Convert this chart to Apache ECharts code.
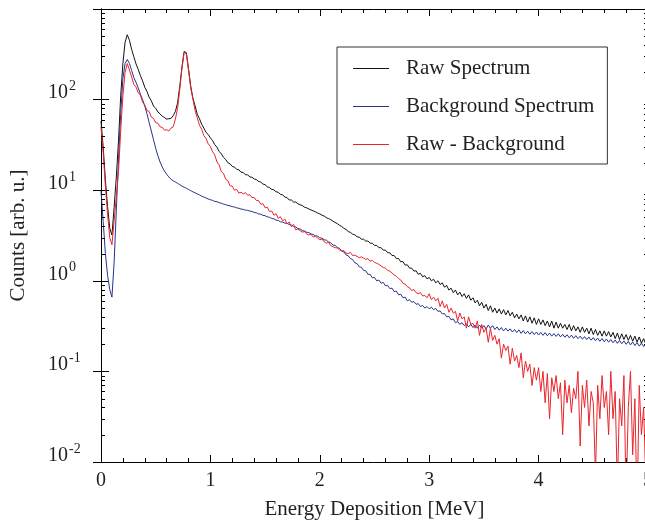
<!DOCTYPE html>
<html>
<head>
<meta charset="utf-8">
<script src="https://cdn.jsdelivr.net/npm/echarts@6/dist/echarts.min.js"></script>
<style>
html,body{margin:0;padding:0;background:#fff;}
#chart{width:645px;height:520px;}
</style>
</head>
<body>
<div id="chart"></div>
<script>
// Energy bins: 0.00 .. 5.00 MeV in 0.02 MeV steps (251 channels)
const ENERGY_STEP = 0.02;

const rawSpectrum = [
  58, 30, 13, 6.6, 3.8, 3.2, 6.5, 14, 35, 110,
  250, 430, 520, 452, 358, 297, 248, 216, 184, 161,
  137, 123, 106, 97, 85, 80, 73, 69.5, 65.5, 63.5,
  61, 61.5, 62, 66.5, 74, 92, 140, 230, 340, 330,
  220, 141, 104, 85, 69, 61.5, 53.5, 48.5, 43.5, 41.2,
  37.8, 35.3, 31.8, 29.8, 26.8, 25.2, 23.0, 21.8, 20.1, 19.5,
  18.3, 18.0, 17.0, 16.8, 15.8, 15.7, 14.8, 14.8, 14.0, 13.9,
  13.3, 13.1, 12.5, 12.3, 11.7, 11.5, 10.9, 10.7, 10.2, 10.1,
  9.6, 9.5, 9.0, 8.9, 8.4, 8.3, 7.8, 7.8, 7.4, 7.4,
  7.1, 6.9, 6.78, 6.5, 6.38, 6.2, 6.05, 5.9, 5.78, 5.6,
  5.48, 5.3, 5.18, 4.98, 4.86, 4.72, 4.56, 4.4, 4.28, 4.1,
  3.98, 3.8, 3.68, 3.5, 3.42, 3.27, 3.22, 3.06, 3.03, 2.88,
  2.88, 2.74, 2.75, 2.6, 2.6, 2.46, 2.46, 2.32, 2.32, 2.18,
  2.18, 2.04, 2.04, 1.9, 1.9, 1.76, 1.76, 1.62, 1.63, 1.49,
  1.5, 1.38, 1.38, 1.28, 1.29, 1.18, 1.21, 1.11, 1.14, 1.05,
  1.09, 1.0, 1.04, 0.95, 1.0, 0.91, 0.95, 0.85, 0.89, 0.79,
  0.83, 0.74, 0.79, 0.7, 0.75, 0.67, 0.72, 0.64, 0.7, 0.61,
  0.65, 0.57, 0.61, 0.53, 0.58, 0.5, 0.55, 0.47, 0.53, 0.45,
  0.5, 0.44, 0.49, 0.43, 0.48, 0.42, 0.47, 0.41, 0.45, 0.39,
  0.43, 0.38, 0.42, 0.36, 0.41, 0.35, 0.4, 0.34, 0.39, 0.33,
  0.38, 0.33, 0.37, 0.32, 0.36, 0.31, 0.36, 0.3, 0.35, 0.3,
  0.34, 0.3, 0.33, 0.29, 0.33, 0.28, 0.32, 0.28, 0.31, 0.27,
  0.31, 0.27, 0.3, 0.26, 0.3, 0.255, 0.29, 0.25, 0.28, 0.245,
  0.28, 0.245, 0.275, 0.24, 0.27, 0.23, 0.265, 0.225, 0.26, 0.225,
  0.255, 0.22, 0.25, 0.215, 0.245, 0.21, 0.24, 0.205, 0.23, 0.2,
  0.21
];

const backgroundSpectrum = [
  9.8, 4.5, 2.0, 1.15, 0.8, 0.66, 1.6, 6, 22, 70,
  170, 250, 277, 250, 210, 175, 155, 135, 115, 100,
  85, 70, 56, 45, 36, 29, 24, 20.5, 18, 16.3,
  15, 14, 13.2, 12.7, 12.3, 11.9, 11.5, 11.1, 10.8, 10.5,
  10.2, 9.9, 9.6, 9.35, 9.1, 8.85, 8.6, 8.4, 8.2, 8.0,
  7.85, 7.72, 7.52, 7.47, 7.28, 7.18, 7.02, 6.93, 6.78, 6.72,
  6.58, 6.53, 6.38, 6.33, 6.18, 6.15, 6.02, 6.0, 5.88, 5.83,
  5.68, 5.63, 5.48, 5.43, 5.28, 5.23, 5.08, 5.03, 4.88, 4.83,
  4.68, 4.63, 4.48, 4.45, 4.33, 4.31, 4.18, 4.13, 3.98, 3.93,
  3.78, 3.73, 3.58, 3.55, 3.43, 3.41, 3.28, 3.25, 3.13, 3.11,
  2.98, 2.96, 2.83, 2.81, 2.68, 2.63, 2.48, 2.46, 2.33, 2.28,
  2.13, 2.08, 1.93, 1.89, 1.76, 1.72, 1.58, 1.55, 1.43, 1.41,
  1.3, 1.29, 1.18, 1.18, 1.08, 1.09, 1.0, 1.02, 0.94, 0.96,
  0.88, 0.89, 0.82, 0.83, 0.76, 0.77, 0.7, 0.71, 0.65, 0.66,
  0.6, 0.62, 0.58, 0.59, 0.55, 0.56, 0.52, 0.535, 0.5, 0.52,
  0.49, 0.51, 0.48, 0.495, 0.46, 0.465, 0.43, 0.435, 0.4, 0.405,
  0.37, 0.38, 0.345, 0.355, 0.33, 0.345, 0.32, 0.335, 0.31, 0.33,
  0.305, 0.325, 0.3, 0.325, 0.3, 0.32, 0.295, 0.325, 0.3, 0.32,
  0.29, 0.31, 0.285, 0.305, 0.28, 0.3, 0.278, 0.295, 0.272, 0.29,
  0.268, 0.287, 0.263, 0.282, 0.26, 0.278, 0.257, 0.275, 0.255, 0.272,
  0.252, 0.27, 0.25, 0.268, 0.247, 0.265, 0.245, 0.262, 0.243, 0.26,
  0.24, 0.257, 0.238, 0.254, 0.235, 0.251, 0.232, 0.248, 0.23, 0.245,
  0.227, 0.242, 0.224, 0.239, 0.221, 0.236, 0.218, 0.233, 0.215, 0.23,
  0.212, 0.228, 0.21, 0.225, 0.207, 0.222, 0.204, 0.22, 0.202, 0.217,
  0.199, 0.214, 0.196, 0.211, 0.193, 0.208, 0.19, 0.205, 0.188, 0.202,
  0.19
];

const rawMinusBackground = [
  50, 26, 11, 5.4, 3.0, 2.5, 4.6, 8.5, 16, 45,
  110, 200, 250, 212, 178, 147, 138, 119, 112, 94,
  87, 76, 74, 64, 62, 55.5, 55, 50, 49.5, 46,
  46.5, 45, 48.5, 50, 61, 80, 130, 220, 335, 320,
  210, 135, 101, 76, 63, 52, 47, 40, 37.5, 32.5,
  30.5, 26.5, 24.5, 20.5, 19, 16, 15.3, 13.2, 12.7, 11.2,
  11.1, 10.0, 10.2, 9.3, 9.5, 9.1, 9.4, 8.8, 8.9, 8.3,
  8.3, 7.7, 7.7, 7.0, 7.1, 6.4, 6.5, 5.8, 5.9, 5.3,
  5.5, 4.9, 5.1, 4.6, 4.8, 4.25, 4.45, 3.95, 4.2, 3.65,
  3.72, 3.58, 3.44, 3.5, 3.28, 3.2, 3.26, 3.04, 3.1, 2.96,
  2.84, 2.9, 2.7, 2.6, 2.66, 2.44, 2.38, 2.32, 2.3, 2.2,
  2.14, 2.16, 2.02, 2.0, 2.06, 1.9, 1.92, 1.86, 1.8, 1.84,
  1.78, 1.72, 1.76, 1.64, 1.68, 1.6, 1.56, 1.52, 1.46, 1.4,
  1.38, 1.3, 1.28, 1.22, 1.16, 1.12, 1.06, 1.02, 0.94, 0.92,
  0.86, 0.84, 0.78, 0.8, 0.74, 0.72, 0.74, 0.68, 0.69, 0.65,
  0.72, 0.62, 0.66, 0.6, 0.64, 0.52, 0.6, 0.5, 0.55, 0.45,
  0.5, 0.44, 0.46, 0.36, 0.44, 0.38, 0.4, 0.3, 0.4, 0.33,
  0.34, 0.3, 0.36, 0.25, 0.33, 0.27, 0.3, 0.21, 0.3, 0.22,
  0.25, 0.2, 0.23, 0.14, 0.2, 0.17, 0.19, 0.12, 0.18, 0.13,
  0.15, 0.11, 0.16, 0.085, 0.13, 0.1, 0.12, 0.07, 0.11, 0.08,
  0.11, 0.06, 0.1, 0.045, 0.095, 0.03, 0.085, 0.06, 0.09, 0.05,
  0.075, 0.02, 0.08, 0.045, 0.07, 0.035, 0.065, 0.05, 0.1, 0.015,
  0.07, 0.04, 0.08, 0.025, 0.06, 0.045, 0.007, 0.07, 0.03, 0.09,
  0.04, 0.06, 0.02, 0.1, 0.03, 0.06, 0.005, 0.05, 0.025, 0.09,
  0.004, 0.04, 0.1, 0.012, 0.05, 0.003, 0.07, 0.02, 0.04, 0.006,
  0.03
];

const seriesNames = ['Raw Spectrum', 'Background Spectrum', 'Raw - Background'];
const seriesColors = ['#111111', '#27328c', '#e8252c'];
const xTicks = [0, 1, 2, 3, 4, 5];
const yDecades = [-2, -1, 0, 1, 2, 3];
const yMinorMultipliers = [2, 3, 4, 5, 6, 7, 8, 9];

const FONT = '"Liberation Serif", "DejaVu Serif", serif';
const TEXT = '#231f20';

function toPairs(values) {
  return values.map((v, i) => [+(i * ENERGY_STEP).toFixed(2), v]);
}

const minorY = [];
yDecades.slice(0, -1).forEach(e => {
  yMinorMultipliers.forEach(m => minorY.push([0, +(m * Math.pow(10, e)).toPrecision(3)]));
});

const chart = echarts.init(document.getElementById('chart'), null, {renderer: 'canvas'});

const axisLineStyle = {color: '#000', width: 1};

const option = {
  animation: false,
  backgroundColor: '#fff',
  grid: {left: 101, top: 9, width: 547, height: 453, outerBoundsMode: 'none', containLabel: false},
  legend: {
    data: seriesNames,
    orient: 'vertical',
    left: 337,
    top: 47,
    padding: [11, 13, 9, 16],
    icon: 'rect',
    itemWidth: 36,
    itemHeight: 1,
    itemGap: 17,
    borderColor: '#333',
    borderWidth: 1,
    textStyle: {fontFamily: FONT, fontSize: 21, color: TEXT, padding: [0, 0, 0, 12], lineHeight: 21}
  },
  xAxis: [{
    type: 'value',
    min: xTicks[0],
    max: xTicks[xTicks.length - 1],
    interval: 1,
    position: 'bottom',
    axisLine: {lineStyle: axisLineStyle},
    axisTick: {inside: true, length: 7, lineStyle: axisLineStyle},
    minorTick: {show: true, splitNumber: 5, length: 4, lineStyle: axisLineStyle},
    splitLine: {show: false},
    axisLabel: {fontFamily: FONT, fontSize: 20, color: TEXT, margin: 9},
    name: 'Energy Deposition [MeV]',
    nameLocation: 'middle',
    nameGap: 37,
    nameTextStyle: {fontFamily: FONT, fontSize: 21, color: TEXT}
  }, {
    type: 'value',
    min: xTicks[0],
    max: xTicks[xTicks.length - 1],
    interval: 1,
    position: 'top',
    axisLine: {lineStyle: axisLineStyle},
    axisTick: {inside: true, length: 7, lineStyle: axisLineStyle},
    minorTick: {show: true, splitNumber: 5, length: 4, lineStyle: axisLineStyle},
    splitLine: {show: false},
    axisLabel: {show: false}
  }],
  yAxis: [{
    type: 'log',
    logBase: 10,
    min: Math.pow(10, yDecades[0]),
    max: Math.pow(10, yDecades[yDecades.length - 1]),
    splitNumber: 5,
    position: 'left',
    axisLine: {lineStyle: axisLineStyle},
    axisTick: {inside: true, length: 8, lineStyle: axisLineStyle},
    splitLine: {show: false},
    axisLabel: {
      align: 'left',
      margin: 53,
      verticalAlign: 'bottom',
      color: TEXT,
      formatter: function (v) {
        const e = Math.round(Math.log10(v));
        if (e > 2) return '';
        return '{b|10}{s|' + e + '}';
      },
      rich: {
        b: {fontFamily: FONT, fontSize: 20, color: TEXT, lineHeight: 20, padding: [7, 0, 0, 0]},
        s: {fontFamily: FONT, fontSize: 14, color: TEXT, lineHeight: 14, verticalAlign: 'top', padding: [0, 0, 0, 1]}
      }
    },
    name: 'Counts [arb. u.]',
    nameLocation: 'middle',
    nameGap: 72,
    nameTextStyle: {fontFamily: FONT, fontSize: 21, color: TEXT}
  }, {
    type: 'log',
    logBase: 10,
    min: Math.pow(10, yDecades[0]),
    max: Math.pow(10, yDecades[yDecades.length - 1]),
    splitNumber: 5,
    position: 'right',
    axisLine: {lineStyle: axisLineStyle},
    axisTick: {inside: true, length: 8, lineStyle: axisLineStyle},
    splitLine: {show: false},
    axisLabel: {show: false}
  }],
  series: [
    {
      name: seriesNames[0], type: 'line', data: toPairs(rawSpectrum),
      symbol: 'none', showSymbol: false, clip: true,
      lineStyle: {color: seriesColors[0], width: 1}, itemStyle: {color: seriesColors[0]}, z: 3
    },
    {
      name: seriesNames[1], type: 'line', data: toPairs(backgroundSpectrum),
      symbol: 'none', showSymbol: false, clip: true,
      lineStyle: {color: seriesColors[1], width: 1}, itemStyle: {color: seriesColors[1]}, z: 3
    },
    {
      name: seriesNames[2], type: 'line', data: toPairs(rawMinusBackground),
      symbol: 'none', showSymbol: false, clip: true,
      lineStyle: {color: seriesColors[2], width: 1}, itemStyle: {color: seriesColors[2]}, z: 4
    },
    {
      type: 'custom',
      silent: true,
      clip: false,
      z: 5,
      data: minorY,
      renderItem: function (params, api) {
        const v = api.value(1);
        const l = api.coord([xTicks[0], v]);
        const r = api.coord([xTicks[xTicks.length - 1], v]);
        const y = Math.round(l[1]) + 0.5;
        return {
          type: 'group',
          children: [
            {type: 'line', shape: {x1: l[0], y1: y, x2: l[0] + 4, y2: y}, style: {stroke: '#000', lineWidth: 1}},
            {type: 'line', shape: {x1: r[0], y1: y, x2: r[0] - 4, y2: y}, style: {stroke: '#000', lineWidth: 1}}
          ]
        };
      }
    }
  ]
};

chart.setOption(option);
</script>
</body>
</html>
